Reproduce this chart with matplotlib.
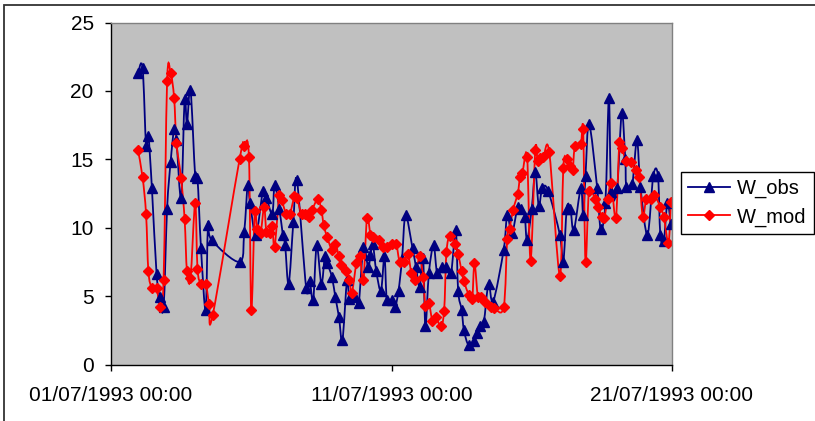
import matplotlib
matplotlib.use('Agg')
import matplotlib.pyplot as plt
import matplotlib.dates as mdates
from matplotlib.patches import Rectangle, PathPatch
from matplotlib.path import Path
from matplotlib.lines import Line2D
import pandas as pd

plt.rcParams['font.family'] = ['Liberation Sans', 'DejaVu Sans']

START = pd.Timestamp('1993-07-01 00:00')

# wind speed, hours after START
obs_hours = [23, 27, 30, 32, 35, 39, 42, 45, 48, 51, 54, 56, 60, 63, 65, 68, 72, 74, 77, 81,
             83, 86, 110, 114, 117, 119, 124, 130, 133, 138, 140, 144, 147, 149, 152, 156,
             159, 167, 170, 173, 176, 180, 183, 185, 189, 192, 195, 198, 202, 204, 209, 212,
             216, 220, 222, 224, 227, 231, 234, 236, 240, 243, 246, 249, 252, 258, 261, 264,
             267, 269, 272, 276, 279, 283, 287, 291, 295, 297, 300, 302, 306, 311, 313, 316,
             319, 323, 327, 336, 339, 343, 348, 351, 354, 356, 360, 363, 366, 369, 374, 384,
             387, 390, 393, 396, 402, 404, 406, 409, 416, 419, 423, 426, 428, 433, 437, 440,
             441, 446, 450, 453, 459, 464, 468, 470, 473, 476, 479]
obs_vals = [21.3, 21.7, 16.0, 16.7, 12.9, 6.6, 4.9, 4.2, 11.4, 14.8, 17.2, 16.4, 12.2, 19.4,
            17.6, 20.1, 13.8, 13.6, 8.5, 4.0, 10.2, 9.1, 7.5, 9.7, 13.1, 11.8, 9.5, 12.7, 12.2,
            11.0, 13.1, 11.4, 9.5, 8.7, 5.9, 10.4, 13.5, 5.6, 6.1, 4.7, 8.7, 5.9, 7.9, 7.4, 6.4,
            4.9, 3.5, 1.8, 6.2, 4.8, 4.9, 4.5, 8.6, 7.1, 8.0, 8.8, 6.8, 5.4, 7.9, 4.7, 4.7, 4.2,
            5.4, 7.7, 10.9, 8.5, 7.1, 5.7, 7.8, 2.8, 6.7, 8.7, 6.7, 7.1, 7.1, 6.7, 9.8, 5.4,
            4.0, 2.5, 1.4, 1.7, 2.3, 2.8, 3.1, 5.9, 4.6, 8.4, 10.9, 9.6, 11.5, 11.4, 10.8, 9.1,
            11.4, 14.1, 11.6, 12.9, 12.7, 9.5, 7.5, 11.4, 11.4, 9.8, 12.9, 10.9, 13.8, 17.6,
            12.9, 9.9, 11.8, 19.5, 12.6, 12.9, 18.4, 15.0, 13.0, 13.2, 16.4, 13.0, 9.5, 13.8,
            13.8, 9.5, 9.0, 11.8, 10.3]

mod_hours = [23, 27, 30, 32, 35, 39, 42, 45, 48, 51, 54, 56, 60, 63, 65, 68, 72, 74, 77, 81,
             84, 87, 110, 114, 118, 120, 123, 125, 128, 131, 133, 136, 138, 140, 144, 146,
             150, 153, 157, 159, 163, 166, 169, 172, 177, 180, 182, 185, 189, 192, 195, 197,
             201, 204, 206, 210, 213, 216, 219, 222, 224, 229, 233, 236, 240, 244, 247, 251,
             254, 257, 260, 264, 267, 269, 272, 275, 278, 282, 285, 287, 290, 294, 297, 300,
             302, 306, 309, 311, 314, 317, 320, 325, 328, 336, 339, 341, 344, 348, 350, 352,
             356, 359, 363, 365, 367, 370, 375, 384, 387, 390, 393, 395, 397, 402, 404, 406,
             409, 414, 417, 420, 422, 425, 428, 432, 435, 437, 441, 445, 449, 452, 455, 458,
             462, 465, 470, 473, 477, 479]
mod_vals = [15.7, 13.7, 11.0, 6.8, 5.6, 5.6, 4.2, 6.2, 20.7, 21.3, 19.5, 16.2, 13.6, 10.6,
            6.8, 6.3, 11.8, 7.0, 5.9, 5.9, 4.4, 3.6, 15.0, 16.0, 15.2, 4.0, 11.2, 9.9, 9.6,
            11.5, 9.7, 9.6, 10.1, 8.6, 12.4, 12.0, 11.0, 11.0, 12.3, 12.2, 11.0, 11.0, 10.8,
            11.3, 12.1, 11.3, 10.2, 9.3, 8.4, 8.8, 7.9, 7.3, 6.8, 6.2, 5.2, 7.4, 7.9, 6.2, 10.7,
            9.5, 9.3, 9.1, 8.6, 8.6, 8.8, 8.8, 7.5, 7.5, 8.1, 6.7, 6.2, 7.9, 6.4, 4.3, 4.5, 3.2,
            3.5, 2.8, 3.9, 8.2, 9.4, 8.8, 8.1, 6.8, 6.1, 5.1, 4.8, 7.4, 4.9, 4.9, 4.6, 4.2, 4.1,
            4.2, 9.2, 9.9, 11.3, 12.5, 13.7, 14.0, 15.2, 7.6, 15.7, 14.9, 15.1, 15.2, 15.5, 6.5,
            14.4, 15.0, 14.5, 14.2, 16.0, 16.1, 17.2, 7.5, 12.7, 12.1, 11.5, 10.8, 10.7, 12.1,
            13.3, 10.7, 16.3, 15.8, 14.9, 14.8, 14.2, 13.7, 10.8, 12.1, 12.1, 12.4, 11.5, 10.8,
            8.9, 11.9]

y_ticks = [0, 5, 10, 15, 20, 25]
x_ticks = ['1993-07-01', '1993-07-11', '1993-07-21']

OBS_C, MOD_C = '#000080', '#ff0000'


def smooth_path(x, y):
    """Catmull-Rom style cubic Bezier through every point (spreadsheet 'smoothed line')."""
    n = len(x)
    verts, codes = [(x[0], y[0])], [Path.MOVETO]
    for i in range(n - 1):
        xa, ya = (x[i - 1], y[i - 1]) if i > 0 else (x[i], y[i])
        xd, yd = (x[i + 2], y[i + 2]) if i + 2 < n else (x[i + 1], y[i + 1])
        c1 = (x[i] + (x[i + 1] - xa) / 6, y[i] + (y[i + 1] - ya) / 6)
        c2 = (x[i + 1] - (xd - x[i]) / 6, y[i + 1] - (yd - y[i]) / 6)
        verts += [c1, c2, (x[i + 1], y[i + 1])]
        codes += [Path.CURVE4] * 3
    return Path(verts, codes)


obs_t = mdates.date2num(START + pd.to_timedelta(obs_hours, unit='h'))
mod_t = mdates.date2num(START + pd.to_timedelta(mod_hours, unit='h'))

W, H = 815, 421
fig = plt.figure(figsize=(W / 100, H / 100), dpi=100)
ax = fig.add_axes([111 / W, 56.5 / H, 561 / W, 342 / H])
ax.set_facecolor('#c0c0c0')

series = [('W_obs', obs_t, obs_vals, OBS_C, '^', 7.5),
          ('W_mod', mod_t, mod_vals, MOD_C, 'D', 5.0)]
handles = []
for name, t, v, c, m, ms in series:
    ax.add_patch(PathPatch(smooth_path(list(t), v), fill=False, edgecolor=c, linewidth=1.3))
    ax.plot(t, v, linestyle='none', marker=m, ms=ms, color=c)
    handles.append(Line2D([], [], color=c, lw=1.3, marker=m, ms=ms, label=name))

ax.xaxis_date()
ax.set_xlim(pd.Timestamp(x_ticks[0]), pd.Timestamp(x_ticks[-1]))
ax.set_ylim(y_ticks[0], y_ticks[-1])
ax.set_yticks(y_ticks)
ax.set_xticks([pd.Timestamp(t) for t in x_ticks])
ax.xaxis.set_major_formatter(mdates.DateFormatter('%d/%m/%Y %H:%M'))

for side in ('left', 'bottom'):
    ax.spines[side].set_color('black')
    ax.spines[side].set_linewidth(1.0)
for side in ('top', 'right'):
    ax.spines[side].set_color('#808080')
    ax.spines[side].set_linewidth(1.0)
ax.tick_params(axis='both', direction='out', length=4.5, width=1.0, color='black',
               labelsize=15, labelcolor='black')
ax.tick_params(axis='x', pad=11)
ax.tick_params(axis='y', pad=8)

leg = fig.legend(handles=handles, loc='upper left', bbox_to_anchor=(681 / W, 1 - 172 / H),
                 fontsize=14.5, frameon=True, fancybox=False, framealpha=1, edgecolor='black',
                 borderpad=0.35, handlelength=2.1, handletextpad=0.35, labelspacing=0.45,
                 numpoints=1, borderaxespad=0)
leg.get_frame().set_linewidth(1.0)

# outer chart border (runs off the right and bottom edges)
fig.add_artist(Rectangle((4 / W, -0.05), 1.1, 1 - 5 / H + 0.05, transform=fig.transFigure,
                         fill=False, edgecolor='#333333', linewidth=1.3))

fig.savefig('out.png', dpi=100)
